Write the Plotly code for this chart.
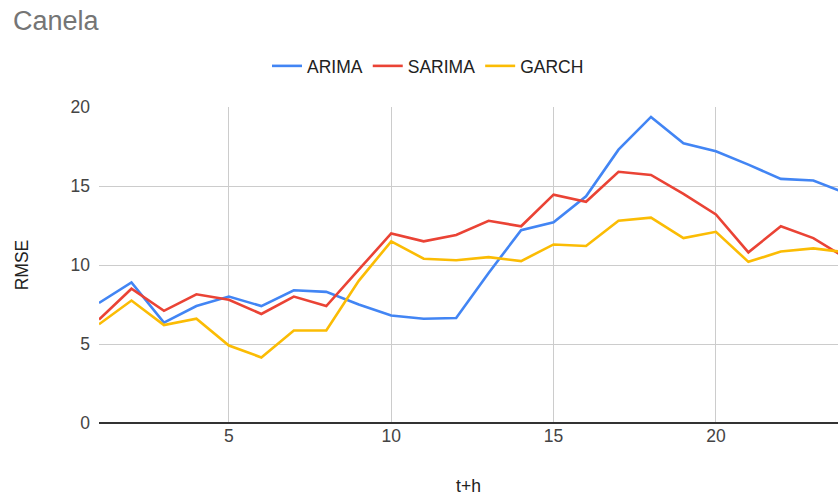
import plotly.graph_objects as go

# RMSE per horizon, Canela
horizon = list(range(1, 25))
arima = [7.6, 8.9, 6.35, 7.4, 8.0, 7.4, 8.4, 8.3, 7.5, 6.8, 6.6, 6.65,
         9.5, 12.2, 12.7, 14.35, 17.3, 19.37, 17.7, 17.2, 16.35, 15.45, 15.35, 14.55]
sarima = [6.55, 8.5, 7.1, 8.15, 7.8, 6.9, 8.0, 7.4, 9.7, 12.0, 11.5, 11.9,
          12.8, 12.45, 14.45, 14.0, 15.9, 15.7, 14.5, 13.2, 10.8, 12.45, 11.7, 10.45]
garch = [6.25, 7.75, 6.2, 6.6, 4.9, 4.15, 5.85, 5.85, 9.0, 11.5, 10.4, 10.3,
         10.5, 10.25, 11.3, 11.2, 12.8, 13.0, 11.7, 12.1, 10.2, 10.85, 11.05, 10.8]

series = [("ARIMA", arima, "#4285F4"), ("SARIMA", sarima, "#EA4335"), ("GARCH", garch, "#FBBC04")]

fig = go.Figure()
for name, vals, col in series:
    fig.add_trace(go.Scatter(x=horizon, y=vals, name=name, mode="lines",
                             line=dict(color=col, width=2.6)))

W, H = 838, 496
fig.update_layout(
    width=W, height=H,
    paper_bgcolor="white", plot_bgcolor="white",
    font=dict(family="Arial, 'Liberation Sans', sans-serif", size=17, color="#444444"),
    title=dict(text="Canela", x=13/W, xanchor="left", xref="container",
               y=1 - 21/H, yanchor="middle", yref="container",
               font=dict(size=27, color="#757575")),
    legend=dict(orientation="h", x=428/W, xanchor="center", xref="container",
                y=1 - 66/H, yanchor="middle", yref="container",
                font=dict(size=17.5, color="#222222"), itemwidth=30),
    margin=dict(l=99, r=0, t=107, b=73),
    showlegend=True,
)
fig.update_xaxes(range=[1, 23.76], tickvals=[5, 10, 15, 20], showgrid=True,
                 gridcolor="#cccccc", gridwidth=1, zeroline=False, showline=False,
                 ticks="", tickfont=dict(size=17.5, color="#444444"),
                 title=dict(text="t+h", font=dict(size=17.5, color="#222222"), standoff=37))
fig.update_yaxes(range=[0, 20], tickvals=[0, 5, 10, 15, 20], showgrid=True,
                 gridcolor="#cccccc", gridwidth=1, zeroline=True, zerolinecolor="#333333",
                 zerolinewidth=2, showline=False, ticks="", ticklabelstandoff=8,
                 tickfont=dict(size=17.5, color="#444444"),
                 title=dict(text="RMSE", font=dict(size=17.5, color="#222222"), standoff=37))

# drop the default body margin so the figure fills the window exactly
fig.write_html("out.html", config={"displayModeBar": False},
               post_script="document.body.style.margin='0';")
